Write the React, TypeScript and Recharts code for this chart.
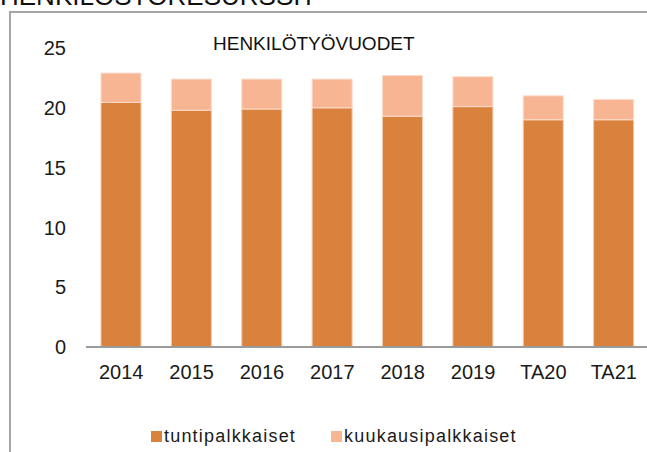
import React from 'react';
import { BarChart, Bar, XAxis, YAxis, Legend } from 'recharts';

const categories = ['2014', '2015', '2016', '2017', '2018', '2019', 'TA20', 'TA21'];
const tuntipalkkaiset = [20.45, 19.8, 19.9, 20.0, 19.3, 20.1, 19.0, 19.0];
const kuukausipalkkaiset = [2.45, 2.6, 2.5, 2.4, 3.4, 2.5, 2.0, 1.7];
const yTicks = [0, 5, 10, 15, 20, 25];
const seriesOrder = ['tuntipalkkaiset', 'kuukausipalkkaiset'];

const data = categories.map((name, i) => ({
  name,
  tuntipalkkaiset: tuntipalkkaiset[i],
  kuukausipalkkaiset: kuukausipalkkaiset[i],
}));

const FONT = '"Liberation Sans", Arial, sans-serif';

const renderLegend = (props: any) => {
  const items = [...(props.payload || [])].sort(
    (a: any, b: any) => seriesOrder.indexOf(a.dataKey) - seriesOrder.indexOf(b.dataKey)
  );
  return (
    <div style={{ display: 'flex', marginLeft: 151, height: 24, alignItems: 'center' }}>
      {items.map((entry: any, index: number) => (
        <div key={`item-${index}`} style={{ display: 'flex', alignItems: 'center', marginRight: 35 }}>
          <span style={{ width: 11, height: 11, background: entry.color, display: 'inline-block', marginRight: 2 }} />
          <span style={{ fontFamily: FONT, fontSize: 18, letterSpacing: 1.2, color: '#1a1a1a' }}>{entry.value}</span>
        </div>
      ))}
    </div>
  );
};

export default function App() {
  return (
    <div style={{ position: 'absolute', top: 0, left: 0, width: 647, height: 452, overflow: 'hidden', background: '#fff' }}>
      {/* page heading, cut off at the top like in the original */}
      <div style={{ position: 'absolute', left: 0, top: -17, fontFamily: FONT, fontSize: 26, lineHeight: '26px', color: '#111', whiteSpace: 'nowrap' }}>
        HENKILÖSTÖRESURSSIT
      </div>
      {/* chart frame */}
      <div style={{ position: 'absolute', left: 9, top: 11, width: 700, height: 500, border: '2px solid #a6a6a6' }} />
      <div style={{ position: 'absolute', left: 0, top: 0 }}>
        <BarChart width={660} height={452} data={data} margin={{ top: 48, right: 11, left: 0, bottom: 4 }}>
          <XAxis
            dataKey="name"
            axisLine={{ stroke: '#9a9a9a', strokeWidth: 2 }}
            tickLine={false}
            tickSize={6}
            tickMargin={12}
            height={77}
            interval={0}
            tick={{ fill: '#1a1a1a', fontSize: 20, fontFamily: FONT }}
          />
          <YAxis
            domain={[0, 25]}
            ticks={yTicks}
            width={86}
            axisLine={false}
            tickLine={false}
            tickSize={6}
            tickMargin={14}
            tick={{ fill: '#1a1a1a', fontSize: 20, fontFamily: FONT }}
          />
          <Legend verticalAlign="bottom" height={24} content={renderLegend} />
          <Bar dataKey="tuntipalkkaiset" stackId="a" fill="#d9823e" stroke="#f6c9ab" strokeWidth={1} barSize={40} isAnimationActive={false} />
          <Bar dataKey="kuukausipalkkaiset" stackId="a" fill="#f8b593" stroke="#fcdccb" strokeWidth={1} barSize={40} isAnimationActive={false} />
        </BarChart>
      </div>
      <div style={{ position: 'absolute', left: 213, top: 34, fontFamily: FONT, fontSize: 19, lineHeight: '19px', color: '#111', whiteSpace: 'nowrap' }}>
        HENKILÖTYÖVUODET
      </div>
    </div>
  );
}
